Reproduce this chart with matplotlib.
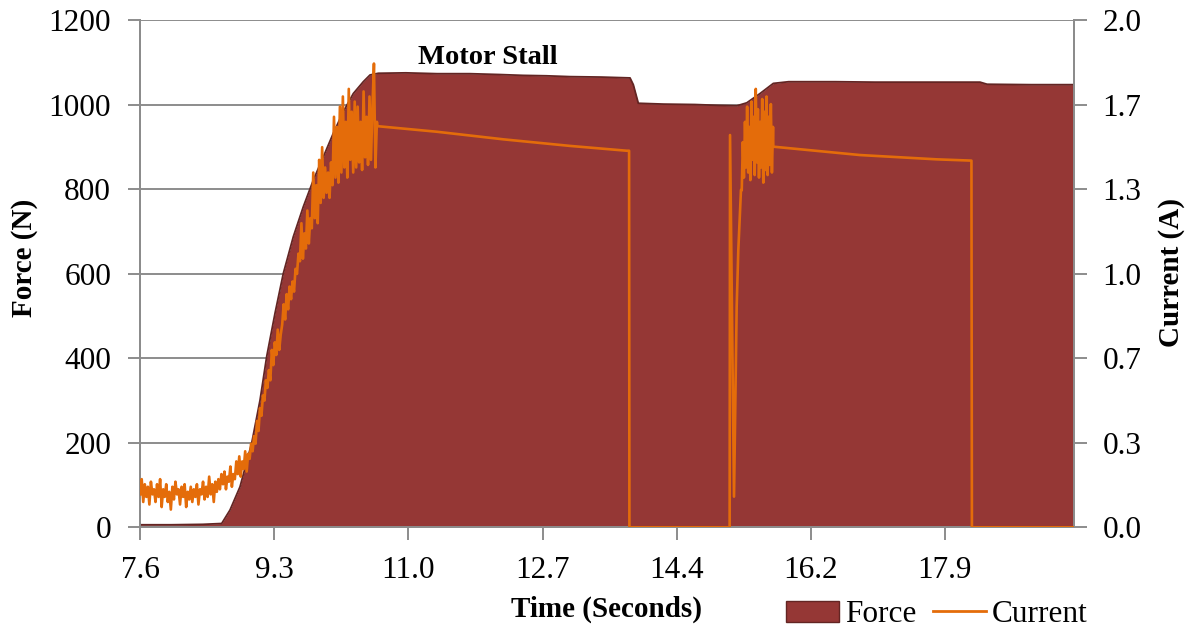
import numpy as np
import matplotlib
matplotlib.use("Agg")
import matplotlib.pyplot as plt
from matplotlib.patches import Patch
from matplotlib.lines import Line2D

plt.rcParams['font.family'] = ['Liberation Serif', 'DejaVu Serif']

# force curve (s, N)
force_t = [7.6, 8.0, 8.4, 8.643, 8.750, 8.878, 9.027, 9.134, 9.219, 9.326, 9.432,
           9.560, 9.688, 9.816, 9.944, 10.072, 10.200, 10.328, 10.456, 10.542, 10.648,
           11.0, 11.4, 11.822, 12.2, 12.5, 12.8, 13.102, 13.5, 13.870, 13.912, 13.976,
           14.3, 14.7, 15.0, 15.237, 15.364, 15.534, 15.704, 15.9, 16.5, 17.0, 17.6,
           18.35, 18.44, 19.0, 19.547]
force_n = [6, 6, 7, 9, 41, 96, 199, 301, 404, 507, 601,
           688, 759, 822, 877, 933, 984, 1027, 1055, 1071, 1075,
           1076, 1074, 1074, 1072, 1070, 1069, 1067, 1066, 1064, 1048, 1004,
           1002, 1001, 999, 998, 1005, 1027, 1051, 1055, 1055, 1054, 1054,
           1054, 1049, 1048, 1048]

# current, noisy idle section 7.6 - 8.64 s
cur_idle = [0.13, 0.19, 0.10, 0.17, 0.12, 0.16, 0.09, 0.18, 0.13, 0.15, 0.10, 0.17,
            0.12, 0.19, 0.08, 0.15, 0.12, 0.17, 0.10, 0.14, 0.07, 0.16, 0.11, 0.18,
            0.13, 0.15, 0.09, 0.16, 0.12, 0.17, 0.08, 0.14, 0.11, 0.16, 0.10, 0.15,
            0.12, 0.17, 0.09, 0.15, 0.13, 0.18, 0.11, 0.16, 0.12, 0.20, 0.13, 0.17,
            0.10, 0.18, 0.14, 0.19, 0.15, 0.21]
# current while loading up, 8.66 - 10.63 s
cur_ramp = [0.17, 0.22, 0.15, 0.20, 0.18, 0.24, 0.16, 0.21, 0.19, 0.26,
            0.21, 0.28, 0.20, 0.26, 0.23, 0.30, 0.22, 0.29, 0.27, 0.33,
            0.30, 0.36, 0.33, 0.42, 0.38, 0.47, 0.44, 0.52, 0.50, 0.58,
            0.55, 0.62, 0.58, 0.70, 0.64, 0.73, 0.68, 0.78, 0.70, 0.76,
            0.80, 0.88, 0.82, 0.92, 0.86, 0.95, 0.90, 0.97, 0.93, 1.02,
            1.00, 1.08, 1.05, 1.20, 1.06, 1.16, 1.10, 1.25, 1.12, 1.22,
            1.18, 1.40, 1.22, 1.35, 1.20, 1.45, 1.28, 1.50, 1.30, 1.42,
            1.32, 1.40, 1.30, 1.44, 1.35, 1.62, 1.38, 1.58, 1.36, 1.66,
            1.40, 1.70, 1.42, 1.60, 1.38, 1.73, 1.45, 1.64, 1.40, 1.68,
            1.42, 1.66, 1.44, 1.60, 1.41, 1.72, 1.46, 1.62, 1.43, 1.70,
            1.45, 1.66, 1.83, 1.42, 1.60]
# current burst after restart, 15.30 - 15.70 s
cur_burst = [1.33, 1.52, 1.38, 1.60, 1.42, 1.66, 1.40, 1.58, 1.37, 1.68,
             1.45, 1.62, 1.39, 1.73, 1.44, 1.65, 1.38, 1.60, 1.42, 1.69,
             1.36, 1.64, 1.41, 1.70, 1.39, 1.62, 1.43, 1.67, 1.40, 1.58]
# steady / off parts of the current trace
stall1_t = [10.635, 11.395, 12.248, 13.102, 13.828, 13.858, 13.862, 15.145, 15.150,
            15.201, 15.235, 15.256, 15.290]
stall1_a = [1.583, 1.561, 1.531, 1.505, 1.486, 1.486, 0.0, 0.0, 1.548,
            0.121, 0.870, 1.094, 1.331]
stall2_t = [15.704, 16.813, 17.796, 18.240, 18.246, 19.547]
stall2_a = [1.502, 1.469, 1.452, 1.447, 0.0, 0.0]

xtick_labels = ['7.6', '9.3', '11.0', '12.7', '14.4', '16.2', '17.9']
ytick_right = ['0.0', '0.3', '0.7', '1.0', '1.3', '1.7', '2.0']

cur_t = np.concatenate([np.linspace(7.6, 8.64, len(cur_idle)),
                        np.linspace(8.66, 10.63, len(cur_ramp)),
                        stall1_t,
                        np.linspace(15.30, 15.70, len(cur_burst)),
                        stall2_t])
cur_a = np.concatenate([cur_idle, cur_ramp, stall1_a, cur_burst, stall2_a])

fill_col = '#953735'
edge_col = '#632523'
cur_col = '#E46C0A'
grey = '#8c8c8c'

fig = plt.figure(figsize=(11.89, 6.30), dpi=100)
ax = fig.add_axes([0.1179, 0.163, 0.785, 0.8045])
ax.fill_between(force_t, force_n, 0, color=fill_col, lw=0, zorder=2)
ax.plot(force_t, force_n, color=edge_col, lw=1.3, zorder=3)
ax.set_xlim(7.6, 19.547)
ax.set_ylim(0, 1200)
ax.set_yticks(range(0, 1201, 200))
ax.yaxis.grid(True, color=grey, lw=1.4)
ax.set_axisbelow(True)
ax.set_xticks([7.6 + i * 10.3 / 6 for i in range(7)])
ax.set_xticklabels(xtick_labels)

ax2 = ax.twinx()
ax2.plot(cur_t, cur_a, color=cur_col, lw=1.9, zorder=4)
ax2.set_ylim(0, 2)
ax2.set_yticks([i / 3 for i in range(7)])
ax2.set_yticklabels(ytick_right)

for a in (ax, ax2):
    a.spines['top'].set_visible(False)
    for s in ('left', 'right', 'bottom'):
        a.spines[s].set_color(grey)
        a.spines[s].set_linewidth(1.4)
    a.tick_params(axis='both', colors=grey, labelcolor='black', labelsize=22.5,
                  length=9, width=1.4, direction='out', pad=12)

ax.set_ylabel('Force (N)', fontsize=21, fontweight='bold')
ax.yaxis.set_label_coords(-0.110, 0.532)
ax.set_xlabel('Time (Seconds)', fontsize=21, fontweight='bold')
ax.xaxis.set_label_coords(0.5, -0.134)
ax2.set_ylabel('Current (A)', fontsize=21, fontweight='bold')
ax2.yaxis.set_label_coords(1.0905, 0.502)

ax.text(12.05, 1113, 'Motor Stall', fontsize=20.5, fontweight='bold',
        ha='center', va='center')

handles = [Patch(facecolor=fill_col, edgecolor=edge_col, lw=1),
           Line2D([], [], color=cur_col, lw=2)]
fig.legend(handles, ['Force', 'Current'], loc='center', ncol=2, frameon=False,
           bbox_to_anchor=(0.788, 0.024), fontsize=22.5, handlelength=1.7,
           handletextpad=0.2, columnspacing=0.5, borderpad=0)

fig.savefig('out.png', dpi=100)
